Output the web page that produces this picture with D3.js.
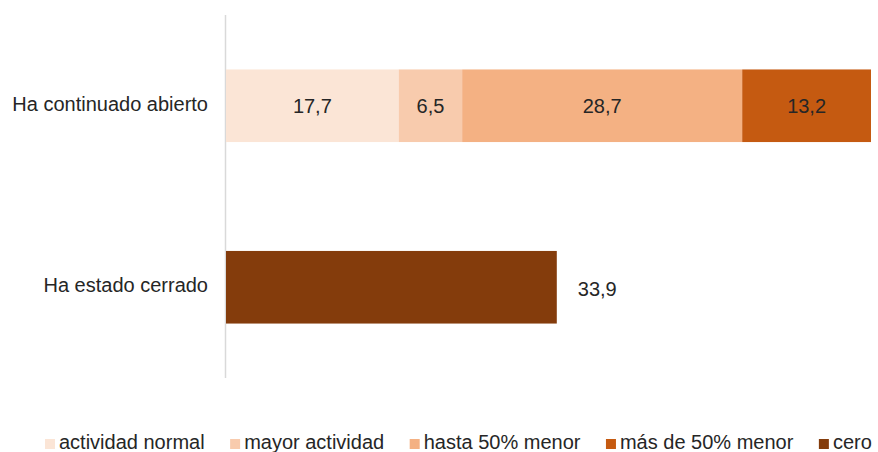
<!DOCTYPE html>
<html>
<head>
<meta charset="utf-8">
<script src="https://cdn.jsdelivr.net/npm/d3@7"></script>
<style>
  body { margin: 0; background: #fff; }
  text { font-family: "Liberation Sans", Arial, sans-serif; fill: #262626; }
</style>
</head>
<body>
<svg width="878" height="452"></svg>
<script>
const categories = ["Ha continuado abierto", "Ha estado cerrado"];
const seriesNames = ["actividad normal", "mayor actividad", "hasta 50% menor", "más de 50% menor", "cero"];
const colors = ["#fbe5d6", "#f8cbad", "#f4b183", "#c55a11", "#843c0c"];
// values per series, one entry per category
const actividadNormal = [17.7, 0];
const mayorActividad = [6.5, 0];
const hasta50 = [28.7, 0];
const masDe50 = [13.2, 0];
const cero = [0, 33.9];

const svg = d3.select("svg"),
  width = +svg.attr("width"),
  height = +svg.attr("height");

const fmt = d3.formatLocale({decimal: ",", thousands: ".", grouping: [3], currency: ["", "€"]}).format(".1f");

const rows = categories.map((c, i) => {
  const r = {cat: c};
  r[seriesNames[0]] = actividadNormal[i];
  r[seriesNames[1]] = mayorActividad[i];
  r[seriesNames[2]] = hasta50[i];
  r[seriesNames[3]] = masDe50[i];
  r[seriesNames[4]] = cero[i];
  return r;
});

const stack = d3.stack().keys(seriesNames)(rows);
const maxTotal = d3.max(rows, r => d3.sum(seriesNames, k => r[k]));

const x = d3.scaleLinear().domain([0, maxTotal]).range([226, 871]);
const y = d3.scaleBand().domain(categories).range([15, 378]).paddingInner(0.6).paddingOuter(0.3);
const color = d3.scaleOrdinal().domain(seriesNames).range(colors);

// axis line
svg.append("line")
  .attr("x1", 225.5).attr("x2", 225.5)
  .attr("y1", 15).attr("y2", 378)
  .attr("stroke", "#d9d9d9").attr("stroke-width", 1.5);

const layer = svg.append("g").selectAll("g")
  .data(stack)
  .join("g")
    .attr("fill", d => color(d.key));

layer.selectAll("rect")
  .data(d => d.filter(p => p[1] - p[0] > 0))
  .join("rect")
    .attr("x", d => x(d[0]))
    .attr("y", d => y(d.data.cat))
    .attr("width", d => x(d[1]) - x(d[0]))
    .attr("height", y.bandwidth());

// value labels
stack.forEach(s => {
  s.filter(p => p[1] - p[0] > 0).forEach(p => {
    const v = p[1] - p[0];
    const inside = s.key !== "cero";
    svg.append("text")
      .attr("x", inside ? (x(p[0]) + x(p[1])) / 2 : x(p[1]) + 21)
      .attr("y", y(p.data.cat) + y.bandwidth() / 2 + (inside ? 0 : 2))
      .attr("dy", "0.35em")
      .attr("text-anchor", inside ? "middle" : "start")
      .attr("font-size", 20)
      .text(fmt(v));
  });
});

// category labels
svg.append("g").selectAll("text")
  .data(categories)
  .join("text")
    .attr("x", 208)
    .attr("y", d => y(d) + y.bandwidth() / 2 - 2)
    .attr("dy", "0.35em")
    .attr("text-anchor", "end")
    .attr("font-size", 20)
    .text(d => d);

// legend
const legend = svg.append("g").attr("transform", "translate(45,0)");
let lx = 0;
seriesNames.forEach(name => {
  const g = legend.append("g").attr("transform", `translate(${lx},0)`);
  g.append("rect")
    .attr("x", 0).attr("y", 439)
    .attr("width", 10).attr("height", 10)
    .attr("fill", color(name));
  const t = g.append("text")
    .attr("x", 14).attr("y", 449)
    .attr("font-size", 20)
    .text(name);
  lx += 14 + t.node().getComputedTextLength() + 25.5;
});
</script>
</body>
</html>
